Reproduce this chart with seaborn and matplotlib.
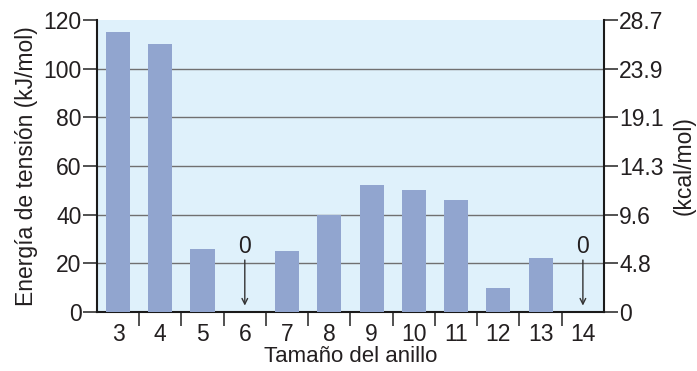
import matplotlib
matplotlib.use("Agg")
import matplotlib.pyplot as plt
import seaborn as sns
import pandas as pd

# Strain energy of cycloalkanes by ring size
ring_sizes = ["3", "4", "5", "6", "7", "8", "9", "10", "11", "12", "13", "14"]
strain_kj = [115, 110, 26, 0, 25, 40, 52, 50, 46, 10, 22, 0]
zero_rings = ["6", "14"]
kj_ticks = [0, 20, 40, 60, 80, 100, 120]
kcal_labels = ["0", "4.8", "9.6", "14.3", "19.1", "23.9", "28.7"]

sns.set_theme(style="white")
plt.rcParams["font.family"] = ["Liberation Sans", "DejaVu Sans"]
text_color = "#231f20"
fs = 16.5

df = pd.DataFrame({"ring": ring_sizes, "kj": strain_kj})

fig, ax = plt.subplots(figsize=(6.97, 3.71), dpi=100)
fig.subplots_adjust(left=0.139, right=0.8666, top=0.946, bottom=0.159)
ax.set_facecolor("#dff1fb")

sns.barplot(data=df, x="ring", y="kj", color="#91a5cf", saturation=1,
            width=0.57, linewidth=0, edgecolor="none", ax=ax, zorder=3)

ax.set_xlim(-0.5, len(ring_sizes) - 0.5)
ax.set_ylim(0, 120)
ax.set_yticks(kj_ticks)
for v in kj_ticks[1:-1]:
    ax.axhline(v, color="#707070", lw=1.0, zorder=1)

# Category boundaries carry the tick marks, labels sit at centres
ax.set_xticks(range(len(ring_sizes)))
ax.set_xticklabels(ring_sizes)
ax.set_xticks([i + 0.5 for i in range(len(ring_sizes) - 1)], minor=True)
ax.tick_params(axis="x", which="major", length=0, pad=8, labelsize=fs,
               labelcolor=text_color)
ax.tick_params(axis="x", which="minor", length=10, width=1.2, color="#333333",
               direction="out", bottom=True)
ax.tick_params(axis="y", length=10, width=1.2, color="#333333", direction="out",
               left=True, labelsize=fs, labelcolor=text_color, pad=1)

for side in ["left", "bottom"]:
    ax.spines[side].set_color("#1a1a1a")
    ax.spines[side].set_linewidth(1.5)
ax.spines["top"].set_visible(False)
ax.spines["right"].set_visible(False)

ax.set_xlabel("Tamaño del anillo", fontsize=16, color=text_color, labelpad=0)
ax.set_ylabel("Energía de tensión (kJ/mol)", fontsize=fs, color=text_color,
              labelpad=4)

# Zero-strain rings marked with a value label and a downward arrow
for r in zero_rings:
    xi = ring_sizes.index(r)
    ax.annotate("", xy=(xi, 1.5), xytext=(xi, 22.5),
                arrowprops=dict(arrowstyle="->", color="#333333", lw=1.0,
                                mutation_scale=10), zorder=4)
    ax.text(xi, 27, "0", ha="center", va="center", fontsize=fs,
            color=text_color, zorder=4)

# Secondary scale in kcal/mol
ax2 = ax.twinx()
ax2.set_ylim(0, 120)
ax2.set_yticks(kj_ticks)
ax2.set_yticklabels(kcal_labels)
ax2.tick_params(axis="y", length=10, width=1.2, color="#333333", direction="out",
                right=True, labelsize=fs, labelcolor=text_color, pad=1)
for side in ["left", "top", "bottom"]:
    ax2.spines[side].set_visible(False)
ax2.spines["right"].set_color("#1a1a1a")
ax2.spines["right"].set_linewidth(1.5)
ax2.set_ylabel("(kcal/mol)", fontsize=fs, color=text_color, labelpad=6)
ax2.grid(False)

fig.savefig("out.png", dpi=100)
